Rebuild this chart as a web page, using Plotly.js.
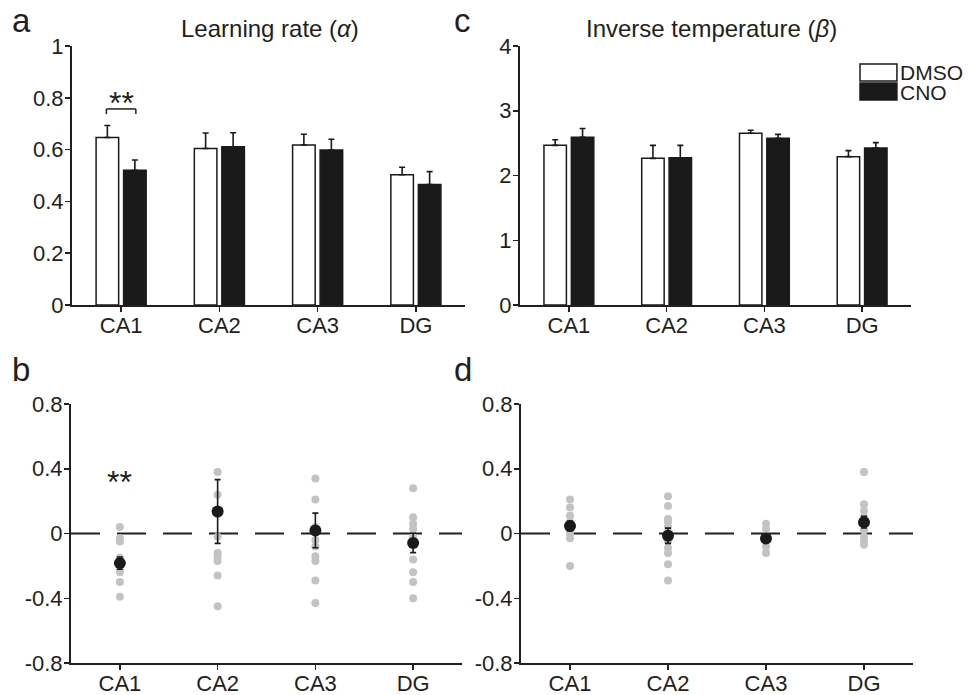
<!DOCTYPE html>
<html>
<head>
<meta charset="utf-8">
<script src="https://cdn.plot.ly/plotly-3.0.1.min.js"></script>
<style>html,body{margin:0;padding:0;background:#fff;}#chart{width:974px;height:695px;}</style>
</head>
<body>
<div id="chart"></div>
<script>
// ---------- data ----------
var categories = ['CA1', 'CA2', 'CA3', 'DG'];

// panel a: learning rate (alpha)
var alphaDMSO = [0.647, 0.604, 0.618, 0.503];
var alphaDMSOErr = [0.046, 0.060, 0.041, 0.029];
var alphaCNO = [0.520, 0.611, 0.598, 0.465];
var alphaCNOErr = [0.040, 0.054, 0.042, 0.050];

// panel c: inverse temperature (beta)
var betaDMSO = [2.466, 2.265, 2.652, 2.291];
var betaDMSOErr = [0.085, 0.200, 0.046, 0.093];
var betaCNO = [2.590, 2.275, 2.575, 2.425];
var betaCNOErr = [0.135, 0.190, 0.060, 0.083];

// panel b: per-animal difference in alpha (CNO - DMSO)
var dAlphaCA1 = [0.04, -0.03, -0.05, -0.15, -0.18, -0.21, -0.24, -0.30, -0.39];
var dAlphaCA2 = [0.38, 0.24, 0.12, -0.02, -0.12, -0.14, -0.17, -0.26, -0.45];
var dAlphaCA3 = [0.34, 0.21, 0.04, 0.02, -0.04, -0.08, -0.14, -0.17, -0.29, -0.43];
var dAlphaDG = [0.28, 0.10, 0.06, 0.03, -0.02, -0.16, -0.24, -0.30, -0.40];
var dAlphaMean = [-0.183, 0.136, 0.019, -0.058];
var dAlphaSEM = [0.038, 0.197, 0.107, 0.060];

// panel d: per-animal difference in beta (CNO - DMSO)
var dBetaCA1 = [0.21, 0.16, 0.11, 0.07, 0.02, 0.00, -0.03, -0.20];
var dBetaCA2 = [0.23, 0.17, 0.09, 0.07, 0.04, 0.01, -0.05, -0.09, -0.12, -0.19, -0.29];
var dBetaCA3 = [0.06, 0.03, -0.02, -0.08, -0.12];
var dBetaDG = [0.38, 0.18, 0.14, 0.10, 0.06, 0.02, -0.02, -0.05, -0.07];
var dBetaMean = [0.047, -0.014, -0.031, 0.070];
var dBetaSEM = [0.030, 0.047, 0.015, 0.036];

var tickA = [0, 0.2, 0.4, 0.6, 0.8, 1];
var tickAText = ['0', '0.2', '0.4', '0.6', '0.8', '1'];
var tickC = [0, 1, 2, 3, 4];
var tickCText = ['0', '1', '2', '3', '4'];
var tickDiff = [-0.8, -0.4, 0, 0.4, 0.8];
var tickDiffText = ['-0.8', '-0.4', '0', '0.4', '0.8'];

// ---------- styling ----------
var INK = '#231f20';
var DARK = '#1a1a1a';
var GREY = '#c3c3c3';
var FONT = 'Liberation Sans, Arial, Helvetica, sans-serif';

function flatten(groups) {
  var xs = [], ys = [];
  groups.forEach(function (vals, i) {
    vals.forEach(function (v) { xs.push(categories[i]); ys.push(v); });
  });
  return {x: xs, y: ys};
}

function zeros(n) { var a = []; for (var i = 0; i < n; i++) a.push(0); return a; }

function barTrace(name, vals, errs, fill, xa, ya) {
  return {
    type: 'bar', name: name, x: categories, y: vals,
    xaxis: xa, yaxis: ya, showlegend: false,
    marker: {color: fill, line: {color: DARK, width: 1.5}},
    error_y: {type: 'data', symmetric: false, array: errs, arrayminus: zeros(errs.length),
              color: DARK, thickness: 1.6, width: 3}
  };
}

var ptsB = flatten([dAlphaCA1, dAlphaCA2, dAlphaCA3, dAlphaDG]);
var ptsD = flatten([dBetaCA1, dBetaCA2, dBetaCA3, dBetaDG]);

function dotTrace(p, xa, ya) {
  return {type: 'scatter', mode: 'markers', x: p.x, y: p.y, xaxis: xa, yaxis: ya,
          showlegend: false, marker: {color: GREY, size: 8}};
}
function meanTrace(m, s, xa, ya) {
  return {type: 'scatter', mode: 'markers', x: categories, y: m, xaxis: xa, yaxis: ya,
          showlegend: false, marker: {color: DARK, size: 12},
          error_y: {type: 'data', array: s, color: DARK, thickness: 1.6, width: 3}};
}

var data = [
  barTrace('DMSO', alphaDMSO, alphaDMSOErr, '#ffffff', 'x', 'y'),
  barTrace('CNO', alphaCNO, alphaCNOErr, DARK, 'x', 'y'),
  barTrace('DMSO', betaDMSO, betaDMSOErr, '#ffffff', 'x2', 'y2'),
  barTrace('CNO', betaCNO, betaCNOErr, DARK, 'x2', 'y2'),
  dotTrace(ptsB, 'x3', 'y3'),
  meanTrace(dAlphaMean, dAlphaSEM, 'x3', 'y3'),
  dotTrace(ptsD, 'x4', 'y4'),
  meanTrace(dBetaMean, dBetaSEM, 'x4', 'y4')
];

function xAxis(domain, anchor) {
  return {domain: domain, anchor: anchor, type: 'category', categoryorder: 'array',
          categoryarray: categories, range: [-0.5, 3.5],
          showline: true, linecolor: INK, linewidth: 2, ticks: 'outside', ticklen: 5,
          tickwidth: 1.5, tickcolor: INK, showgrid: false, zeroline: false,
          ticklabelstandoff: -5,
          tickfont: {size: 22, color: INK}, fixedrange: true, automargin: false};
}
function yAxis(domain, anchor, range, tv, tt) {
  return {domain: domain, anchor: anchor, range: range, tickmode: 'array',
          tickvals: tv, ticktext: tt, showline: true, linecolor: INK, linewidth: 2,
          ticks: 'outside', ticklen: 5, tickwidth: 1.5, tickcolor: INK, showgrid: false,
          ticklabelstandoff: -3,
          zeroline: false, tickfont: {size: 22, color: INK}, fixedrange: true, automargin: false};
}

function ann(text, x, y, size, xanchor, yanchor, xref, yref) {
  return {text: text, x: x, y: y, xref: xref || 'paper', yref: yref || 'paper',
          showarrow: false, font: {size: size, color: INK, family: FONT},
          xanchor: xanchor, yanchor: yanchor, borderpad: 0};
}

var H = 695, W = 974;
function py(px) { return 1 - px / H; }
function pxx(px) { return px / W; }

var layout = {
  width: W, height: H,
  margin: {l: 0, r: 0, t: 0, b: 0},
  paper_bgcolor: '#ffffff', plot_bgcolor: 'rgba(0,0,0,0)',
  font: {family: FONT, color: INK},
  showlegend: false,
  barmode: 'group', bargap: 0.44, bargroupgap: 0.18,
  xaxis: xAxis([pxx(72), pxx(465)], 'y'),
  yaxis: yAxis([py(305), py(46)], 'x', [0, 1], tickA, tickAText),
  xaxis2: xAxis([pxx(520), pxx(911)], 'y2'),
  yaxis2: yAxis([py(305), py(46)], 'x2', [0, 4], tickC, tickCText),
  xaxis3: xAxis([pxx(71), pxx(462)], 'y3'),
  yaxis3: yAxis([py(663), py(404)], 'x3', [-0.8, 0.8], tickDiff, tickDiffText),
  xaxis4: xAxis([pxx(521), pxx(913)], 'y4'),
  yaxis4: yAxis([py(663), py(404)], 'x4', [-0.8, 0.8], tickDiff, tickDiffText),
  shapes: [
    // significance bracket, panel a
    {type: 'line', xref: 'x', yref: 'y', x0: -0.15, x1: 0.15, y0: 0.757, y1: 0.757, line: {color: INK, width: 1.5}},
    {type: 'line', xref: 'x', yref: 'y', x0: -0.15, x1: -0.15, y0: 0.737, y1: 0.757, line: {color: INK, width: 1.5}},
    {type: 'line', xref: 'x', yref: 'y', x0: 0.15, x1: 0.15, y0: 0.737, y1: 0.757, line: {color: INK, width: 1.5}},
    // zero reference lines
    {type: 'line', xref: 'x3 domain', yref: 'y3', x0: 0, x1: 1, y0: 0, y1: 0, layer: 'below', line: {color: INK, width: 1.8, dash: '29px,17px'}},
    {type: 'line', xref: 'x4 domain', yref: 'y4', x0: 0, x1: 1, y0: 0, y1: 0, layer: 'below', line: {color: INK, width: 1.8, dash: '29px,17px'}},
    // legend swatches
    {type: 'rect', xref: 'x2 domain', yref: 'y2 domain', x0: 0.8696, x1: 0.964, y0: 0.8649, y1: 0.9305, fillcolor: '#ffffff', line: {color: DARK, width: 1.5}},
    {type: 'rect', xref: 'x2 domain', yref: 'y2 domain', x0: 0.8696, x1: 0.964, y0: 0.7915, y1: 0.857, fillcolor: DARK, line: {color: DARK, width: 1.5}}
  ],
  annotations: [
    ann('a', pxx(11), py(1), 33, 'left', 'top'),
    ann('c', pxx(453), py(1), 33, 'left', 'top'),
    ann('b', pxx(11), py(350), 33, 'left', 'top'),
    ann('d', pxx(453), py(350), 33, 'left', 'top'),
    ann('Learning rate (<i>α</i>)', pxx(270), py(28), 24, 'center', 'middle'),
    ann('Inverse temperature (<i>β</i>)', pxx(711), py(28), 24, 'center', 'middle'),
    ann('**', 0, 0.78, 32, 'center', 'middle', 'x', 'y'),
    ann('**', 0, 0.32, 32, 'center', 'middle', 'x3', 'y3'),
    ann('DMSO', 0.97, 0.898, 21, 'left', 'middle', 'x2 domain', 'y2 domain'),
    ann('CNO', 0.97, 0.822, 21, 'left', 'middle', 'x2 domain', 'y2 domain')
  ]
};

Plotly.newPlot('chart', data, layout, {staticPlot: true, displayModeBar: false});
</script>
</body>
</html>
